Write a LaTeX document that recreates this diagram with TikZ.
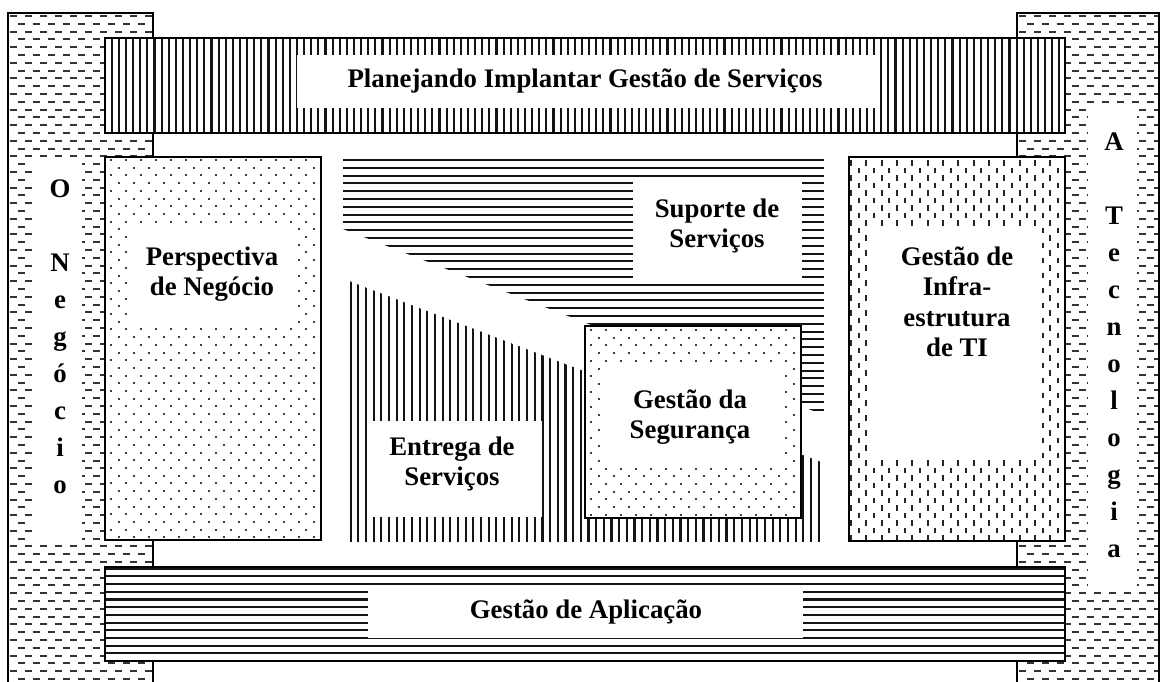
\documentclass[tikz,border=0pt]{standalone}
\usepackage{fontspec}
\setmainfont{Liberation Serif}
\begin{document}
\begin{tikzpicture}[x=1pt,y=-1pt,
  colframe/.style={draw=black, line width=2.2pt},
  boxframe/.style={draw=black, line width=2.8pt},
  ink/.style={line width=2.1pt, draw=black!92},
  hdashes/.style={line width=2pt, draw=black!80, dash pattern=on 7pt off 8pt},
  vdashes/.style={line width=2pt, draw=black!85, dash pattern=on 5.5pt off 9.5pt},
  dotrow/.style={line width=2pt, draw=black!75, dash pattern=on 2pt off 13pt},
  blank/.style={fill=white},
  lbl/.style={font=\bfseries\fontsize{26.8}{30.5}\selectfont, align=center, inner sep=0pt},
  vlbl/.style={font=\bfseries\fontsize{26.8}{37}\selectfont, align=center, inner sep=0pt}]
\useasboundingbox (0,0) rectangle (1161,682);
\clip (0,0) rectangle (1161,682);

% ---- side columns: horizontal dash texture ----
\foreach \xa/\xb in {8/153, 1017/1159}{
  \fill[white] (\xa,13) rectangle (\xb,700);
  \begin{scope}
    \clip (\xa,13) rectangle (\xb,700);
    \foreach \k in {0,...,88}{
      \pgfmathsetmacro\yy{16+7.8*\k}
      \pgfmathsetmacro\ph{mod(\k,2)*7.5}
      \draw[hdashes, dash phase=\ph pt] (\xa+2,\yy) -- (\xb,\yy);
    }
  \end{scope}
}
\fill[blank] (32,157) rectangle (82,542);
\fill[blank] (1088,108) rectangle (1137,590);
\draw[colframe] (8,13) rectangle (153,700);
\draw[colframe] (1017,13) rectangle (1159,700);

% ---- top bar: vertical lines ----
\fill[white] (105,38) rectangle (1065,133);
\begin{scope}
  \clip (105,38) rectangle (1065,133);
  \foreach \k in {0,...,133}{
    \draw[ink] (111.7+7.125*\k,38) -- (111.7+7.125*\k,133);
  }
\end{scope}
\fill[blank] (297,55) rectangle (877,108);
\draw[boxframe] (105,38) rectangle (1065,133);

% ---- bottom bar: horizontal lines ----
\fill[white] (105,567) rectangle (1065,661);
\begin{scope}
  \clip (105,567) rectangle (1065,661);
  \foreach \k in {0,...,11}{
    \draw[ink] (105,568.7+7.7*\k) -- (1065,568.7+7.7*\k);
  }
\end{scope}
\fill[blank] (368,585) rectangle (803,638);
\draw[boxframe] (105,567) rectangle (1065,661);

% ---- left box: dotted ----
\fill[white] (105,157) rectangle (321,540);
\begin{scope}
  \clip (105,157) rectangle (321,540);
  \foreach \k in {0,...,49}{
    \pgfmathsetmacro\yy{160+7.7*\k}
    \pgfmathsetmacro\ph{mod(\k,2)*7.5}
    \draw[dotrow, dash phase=\ph pt] (110,\yy) -- (321,\yy);
  }
\end{scope}
\fill[blank] (127,227) rectangle (298,325);
\draw[boxframe] (105,157) rectangle (321,540);

% ---- right box: vertical dashes ----
\fill[white] (849,157) rectangle (1065,541);
\begin{scope}
  \clip (849,157) rectangle (1065,541);
  \foreach \k in {0,...,28}{
    \pgfmathsetmacro\xx{851+7.67*\k}
    \pgfmathsetmacro\ph{mod(\k,2)*7.5}
    \draw[vdashes, dash phase=\ph pt] (\xx,160) -- (\xx,541);
  }
\end{scope}
\fill[blank] (873,228) rectangle (1042,460);
\draw[boxframe] (849,157) rectangle (1065,541);

% ---- upper wedge: horizontal lines ----
\begin{scope}
  \clip (343,159) -- (824,159) -- (824,415) -- (343,229) -- cycle;
  \foreach \k in {0,...,33}{
    \draw[ink] (343,160+7.8*\k) -- (824,160+7.8*\k);
  }
\end{scope}
\fill[blank] (633,178) rectangle (802,278);

% ---- lower wedge: vertical lines ----
\begin{scope}
  \clip (349,281) -- (821,462) -- (821,542) -- (349,542) -- cycle;
  \foreach \k in {0,...,61}{
    \draw[ink] (350.7+7.67*\k,281) -- (350.7+7.67*\k,542);
  }
\end{scope}
\fill[blank] (368,421) rectangle (542,517);

% ---- centre box: dotted ----
\fill[white] (585,326) rectangle (801,518);
\begin{scope}
  \clip (585,326) rectangle (801,518);
  \foreach \k in {0,...,24}{
    \pgfmathsetmacro\yy{330+7.7*\k}
    \pgfmathsetmacro\ph{mod(\k,2)*7.5}
    \draw[dotrow, dash phase=\ph pt] (590,\yy) -- (801,\yy);
  }
\end{scope}
\fill[blank] (603,368) rectangle (782,468);
\draw[boxframe] (585,326) rectangle (801,518);

% ---- labels ----
\node[lbl, anchor=base] (plan) at (585,88) {Planejando Implantar Gestão de Serviços};
\node[lbl, anchor=base] (apl) at (586,618) {Gestão de Aplicação};
\node[lbl] (persp) at (212,274) {Perspectiva\\de Negócio};
\node[lbl] (sup) at (717,226) {Suporte de\\Serviços};
\node[lbl] (ent) at (452,464) {Entrega de\\Serviços};
\node[lbl] (seg) at (690,417) {Gestão da\\Segurança};
\node[lbl] (infra) at (957,302) {Gestão de\\Infra-\\estrutura\\de TI};
\node[vlbl] (neg) at (60,337) {O\\[37pt]N\\e\\g\\ó\\c\\i\\o};
\node[vlbl] (tec) at (1114,345) {A\\[37pt]T\\e\\c\\n\\o\\l\\o\\g\\i\\a};
\end{tikzpicture}
\end{document}
